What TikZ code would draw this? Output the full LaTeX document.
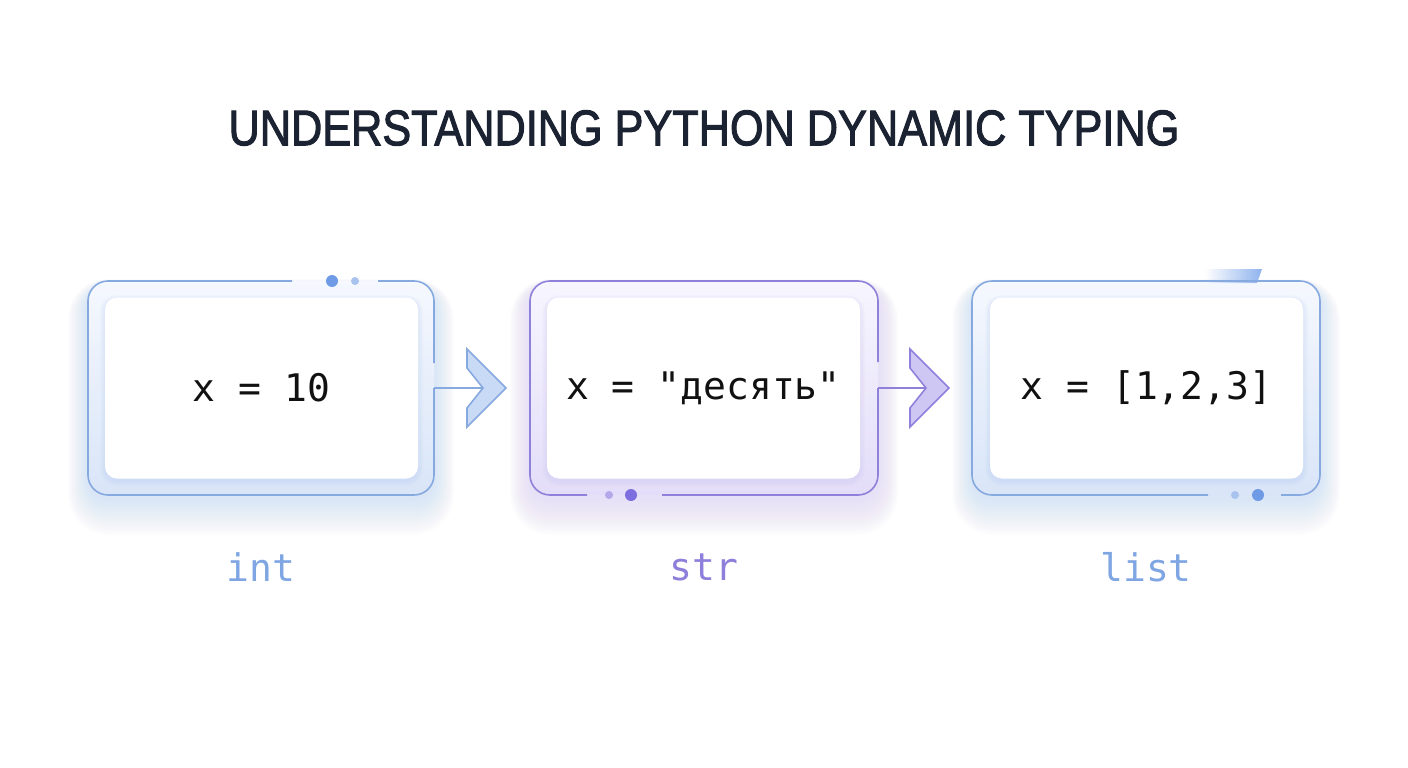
\documentclass[tikz,border=0pt]{standalone}
\usepackage{fontspec}
\setmonofont{DejaVu Sans Mono}
\newfontfamily\titlefont{Liberation Sans}[UprightFeatures={FakeBold=2.2}]
\usetikzlibrary{fadings}
\definecolor{titlec}{HTML}{1B2232}
\definecolor{blueline}{HTML}{86A9E0}
\definecolor{bluedot}{HTML}{6F9BE6}
\definecolor{bluedotl}{HTML}{A9C3EF}
\definecolor{bluetab}{HTML}{8FB3EE}
\definecolor{bluefill}{HTML}{C9DAF6}
\definecolor{blueglow}{HTML}{B4CCF6}
\definecolor{bluetop}{HTML}{F5F8FE}
\definecolor{bluebot}{HTML}{D9E5F8}
\definecolor{purpline}{HTML}{8F80D9}
\definecolor{purpdot}{HTML}{7D6EE0}
\definecolor{purpdotl}{HTML}{B3A9EA}
\definecolor{purpfill}{HTML}{CEC7F4}
\definecolor{purpglow}{HTML}{CBC1F6}
\definecolor{purptop}{HTML}{F7F6FE}
\definecolor{purpbot}{HTML}{E3DDF9}
\definecolor{labelblue}{HTML}{7FA6E3}
\definecolor{labelpurp}{HTML}{8E7FDB}
\definecolor{codec}{HTML}{111111}
\tikzset{
  frameline/.style={line width=1.6pt, rounded corners=20pt},
  card/.style={fill=white, rounded corners=12pt, minimum width=313pt, minimum height=181pt,
    inner sep=0pt, text=codec, font=\ttfamily\fontsize{38}{40}\selectfont},
  typelabel/.style={inner sep=0pt, font=\ttfamily\fontsize{38}{40}\selectfont},
  conn/.style={line width=1.6pt},
}
\begin{document}
\begin{tikzpicture}[x=1pt,y=-1pt]
\useasboundingbox (0,0) rectangle (1408,768);
\fill[white] (0,0) rectangle (1408,768);

% title
\node[inner sep=0pt, text=titlec] (title) at (704,128)
  {\scalebox{0.865}[1]{\titlefont\fontsize{50}{52}\selectfont UNDERSTANDING PYTHON DYNAMIC TYPING}};

% ---------- glows ----------
\foreach \i in {1,...,20} {
  \fill[blueglow, opacity=0.022, rounded corners=20+\i]
    (88-\i*1.0, 281-\i*0.4+6) rectangle (434+\i*1.0, 495+\i*1.8+4);
  \fill[purpglow, opacity=0.022, rounded corners=20+\i]
    (530-\i*1.0, 281-\i*0.4+6) rectangle (878+\i*1.0, 495+\i*1.8+4);
  \fill[blueglow, opacity=0.022, rounded corners=20+\i]
    (972-\i*1.0, 281-\i*0.4+6) rectangle (1320+\i*1.0, 495+\i*1.8+4);
}

% ---------- frame interiors ----------
\path[rounded corners=20, top color=bluetop, bottom color=bluebot] (88,281) rectangle (434,495);
\path[rounded corners=20, top color=purptop, bottom color=purpbot] (530,281) rectangle (878,495);
\path[rounded corners=20, top color=bluetop, bottom color=bluebot] (972,281) rectangle (1320,495);

% card shadows
\foreach \i in {1,...,5} {
  \fill[blueglow, opacity=0.06, rounded corners=12+\i] (105-\i, 298-\i+2) rectangle (418+\i, 478+\i+3);
  \fill[purpglow, opacity=0.06, rounded corners=12+\i] (547-\i, 298-\i+2) rectangle (860+\i, 478+\i+3);
  \fill[blueglow, opacity=0.06, rounded corners=12+\i] (990-\i, 298-\i+2) rectangle (1303+\i, 478+\i+3);
}

% tab on box 3
\fill[bluetab, path fading=west]
  (1205,269) -- (1262,269) -- (1257,283) -- (1205,283) -- cycle;

% ---------- cards ----------
\node[card] (c1) at (261.5,388) {x = 10};
\node[card] (c2) at (703.5,388) {x = "десять"};
\node[card] (c3) at (1146.5,388) {x = [1,2,3]};

% ---------- frames ----------
\draw[frameline, blueline] (378,281) -- (434,281) -- (434,363);
\draw[frameline, blueline] (292,281) -- (88,281) -- (88,495) -- (434,495) -- (434,388);
\fill[bluedot] (332,281) circle (6);
\fill[bluedotl] (355,281) circle (4);

\draw[frameline, purpline] (878,362) -- (878,281) -- (530,281) -- (530,495) -- (587,495);
\draw[frameline, purpline] (662,495) -- (878,495) -- (878,388);
\fill[purpdotl] (609,495) circle (4);
\fill[purpdot] (631,495) circle (6);

\draw[frameline, blueline] (1208,495) -- (972,495) -- (972,281) -- (1320,281) -- (1320,495) -- (1281,495);
\fill[bluedotl] (1235,495) circle (4);
\fill[bluedot] (1258,495) circle (6);

% ---------- connectors and chevrons ----------
\coordinate (e1) at (434,388);
\coordinate (a1) at (483,388);
\coordinate (e2) at (878,388);
\coordinate (a2) at (926,388);
\draw[conn, blueline] (e1) -- (a1);
\draw[conn, purpline] (e2) -- (a2);
\draw[line width=1.6pt, blueline, fill=bluefill]
  (467,349) -- (506,388) -- (467,427) -- (467,408) -- (a1) -- (467,368) -- cycle;
\draw[line width=1.6pt, purpline, fill=purpfill]
  (910,349) -- (949,388) -- (910,427) -- (910,408) -- (a2) -- (910,368) -- cycle;

% ---------- type labels ----------
\node[typelabel, text=labelblue] (t1) at (261,567) {int};
\node[typelabel, text=labelpurp] (t2) at (704,567) {str};
\node[typelabel, text=labelblue] (t3) at (1146,567) {list};
\end{tikzpicture}
\end{document}
